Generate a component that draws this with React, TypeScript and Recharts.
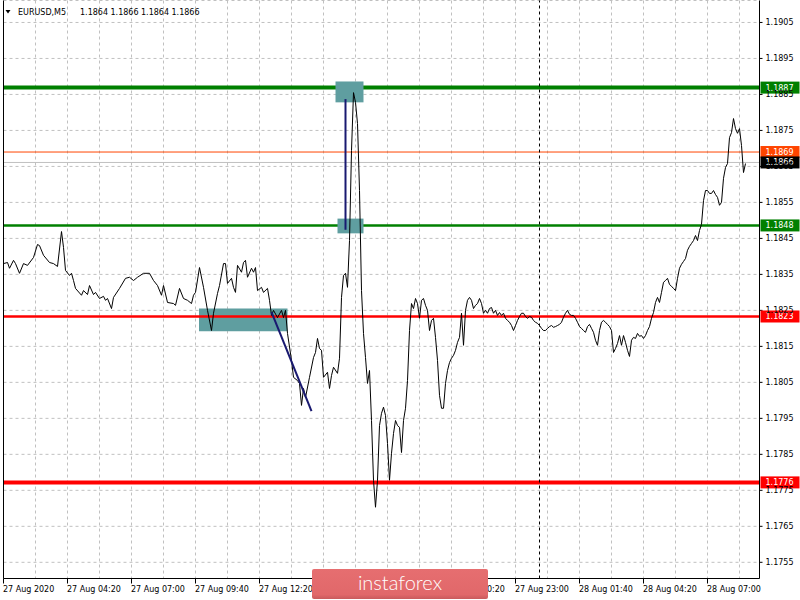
import React from "react";
import {
  ComposedChart,
  Line,
  XAxis,
  YAxis,
  CartesianGrid,
  ReferenceLine,
  ReferenceArea,
} from "recharts";

// ---------- data ----------
const barIndex = [
  0, 2, 3, 5, 6, 8, 10, 12, 15, 17, 18, 20, 23, 25, 27, 29, 30, 31, 33, 34, 35, 36, 39, 40, 42, 43, 45, 46, 48, 50,
  51, 52, 54, 55, 58, 61, 63, 65, 67, 70, 73, 75, 77, 79, 80, 82, 85, 86, 88, 90, 92, 94, 95, 96, 98, 100, 102, 104,
  105, 107, 108, 110, 111, 112, 114, 115, 116, 117, 119, 120, 121, 122, 124, 125, 126, 127, 129, 130, 132, 133, 134,
  135, 137, 139, 140, 141, 142, 144, 145, 147, 148, 149, 150, 151, 153, 155, 156, 157, 158, 159, 160, 162, 163, 164,
  165, 167, 168, 169, 170, 171, 172, 173, 174, 175, 176, 177, 178, 179, 180, 181, 182, 183, 184, 185, 186, 187, 188,
  189, 190, 191, 192, 193, 194, 195, 196, 197, 198, 199, 200, 201, 202, 203, 204, 205, 206, 207, 208, 209, 210, 211,
  212, 213, 214, 215, 216, 217, 218, 219, 220, 221, 222, 223, 224, 225, 226, 227, 228, 229, 230, 231, 232, 233, 234,
  235, 236, 237, 238, 239, 240, 241, 242, 243, 244, 245, 246, 247, 248, 249, 250, 251, 252, 253, 254, 255, 256, 257,
  258, 259, 260, 261, 262, 263, 264, 265, 266, 267, 268, 269, 270, 271, 272, 273, 274, 275, 276, 277, 278, 279, 280,
  281, 282, 283, 284, 285, 286, 287, 288, 289, 290, 291, 292, 293, 294, 295, 296, 297, 298, 299, 300, 301, 302, 303,
  304, 305, 306, 307, 308, 309, 310, 311, 312, 313, 314, 315, 316, 317, 318, 319, 320, 321, 322, 323, 324, 325, 326,
  327, 328, 329, 330, 331, 332, 333, 334, 335, 336, 337, 338, 339, 340, 341, 342, 343, 344, 345, 346, 347, 348, 349,
  350, 351, 352, 353, 354, 355, 356, 357, 358, 359, 360, 361, 362, 363, 364, 365, 366, 367, 368, 369, 370, 371,
];

const closePrice = [
  1.1838, 1.18383, 1.18367, 1.18389, 1.1838, 1.18353, 1.1838, 1.18375, 1.18397, 1.18433, 1.1843, 1.18403, 1.18383,
  1.1838, 1.18372, 1.18469, 1.18425, 1.18361, 1.18347, 1.18353, 1.18333, 1.18311, 1.18292, 1.18305, 1.18294, 1.18319,
  1.18294, 1.183, 1.18283, 1.18289, 1.18278, 1.18283, 1.18255, 1.18286, 1.18311, 1.18339, 1.18342, 1.18333, 1.18342,
  1.18353, 1.18353, 1.18333, 1.18319, 1.18292, 1.18319, 1.18272, 1.18269, 1.18264, 1.18311, 1.18283, 1.18278, 1.18269,
  1.18292, 1.183, 1.18369, 1.18314, 1.1825, 1.18194, 1.18242, 1.18297, 1.18319, 1.1838, 1.1838, 1.18325, 1.18339,
  1.18314, 1.183, 1.18375, 1.18356, 1.18383, 1.18389, 1.18342, 1.18367, 1.18356, 1.18369, 1.18305, 1.18314, 1.183,
  1.18311, 1.18278, 1.18236, 1.1825, 1.1823, 1.1825, 1.1823, 1.1825, 1.18186, 1.18111, 1.18064, 1.18055, 1.18047,
  1.17986, 1.18033, 1.18008, 1.18064, 1.18119, 1.18133, 1.18172, 1.18144, 1.18139, 1.18064, 1.18078, 1.18033, 1.18069,
  1.18092, 1.18075, 1.18117, 1.18286, 1.18347, 1.18353, 1.18314, 1.18444, 1.18694, 1.18855, 1.18828, 1.18769, 1.18583,
  1.18305, 1.18186, 1.18119, 1.18047, 1.18083, 1.17944, 1.17778, 1.17703, 1.17778, 1.1793, 1.17964, 1.17981, 1.17958,
  1.1788, 1.17778, 1.17853, 1.17908, 1.17944, 1.1793, 1.17925, 1.17855, 1.17944, 1.17978, 1.18055, 1.18194, 1.18269,
  1.18255, 1.18283, 1.18269, 1.18228, 1.18278, 1.18283, 1.18264, 1.1825, 1.18194, 1.18222, 1.18228, 1.18175, 1.18111,
  1.18014, 1.17978, 1.17978, 1.18047, 1.18083, 1.18105, 1.18117, 1.18125, 1.18139, 1.18161, 1.18175, 1.18242, 1.18153,
  1.1825, 1.18278, 1.18286, 1.18278, 1.18255, 1.18264, 1.18269, 1.18283, 1.18269, 1.18242, 1.1825, 1.18242, 1.18255,
  1.18258, 1.18242, 1.1825, 1.18236, 1.18244, 1.18236, 1.18242, 1.18228, 1.18222, 1.18217, 1.18208, 1.18194, 1.18208,
  1.18222, 1.18233, 1.18242, 1.18242, 1.18233, 1.18228, 1.18233, 1.18231, 1.18222, 1.18217, 1.18214, 1.18208, 1.182,
  1.18194, 1.18194, 1.182, 1.18205, 1.18208, 1.18203, 1.18205, 1.18208, 1.18211, 1.18217, 1.18231, 1.18242, 1.1825,
  1.18239, 1.18236, 1.18236, 1.18228, 1.18217, 1.18205, 1.182, 1.18194, 1.18189, 1.18205, 1.18211, 1.182, 1.18189,
  1.18167, 1.18153, 1.18194, 1.18217, 1.18222, 1.18217, 1.18211, 1.18205, 1.18194, 1.18133, 1.18144, 1.18158, 1.1818,
  1.18153, 1.1818, 1.18161, 1.18139, 1.18122, 1.18167, 1.18175, 1.18172, 1.18186, 1.18178, 1.1818, 1.18172, 1.1818,
  1.18194, 1.18205, 1.18228, 1.18244, 1.18272, 1.18286, 1.18272, 1.183, 1.18328, 1.18333, 1.18339, 1.18322, 1.18317,
  1.18311, 1.18305, 1.18339, 1.18367, 1.18378, 1.18386, 1.18394, 1.18417, 1.18428, 1.18436, 1.18444, 1.18458, 1.18444,
  1.18472, 1.18489, 1.18555, 1.18583, 1.18583, 1.18575, 1.18575, 1.18583, 1.18572, 1.18564, 1.18542, 1.1855, 1.18617,
  1.18647, 1.18658, 1.1873, 1.18744, 1.18783, 1.18755, 1.18742, 1.18755, 1.18708, 1.18633, 1.18658,
];

const gridBars = [0, 16, 32, 48, 64, 80, 96, 112, 128, 144, 160, 176, 192, 208, 224, 240, 256, 272, 288, 304, 320, 336, 352, 368];
const labelBars = [0, 32, 64, 96, 128, 160, 192, 224, 256, 288, 320, 352];
const labelTexts = [
  "27 Aug 2020",
  "27 Aug 04:20",
  "27 Aug 07:00",
  "27 Aug 09:40",
  "27 Aug 12:20",
  "27 Aug 15:00",
  "27 Aug 17:40",
  "27 Aug 20:20",
  "27 Aug 23:00",
  "28 Aug 01:40",
  "28 Aug 04:20",
  "28 Aug 07:00",
];
const priceTicks = [
  1.1755, 1.1765, 1.1775, 1.1785, 1.1795, 1.1805, 1.1815, 1.1825, 1.1835, 1.1845, 1.1855, 1.1865, 1.1875, 1.1885,
  1.1895, 1.1905,
];

const symbolName = "EURUSD,M5";
const lastOHLC = ["1.1864", "1.1866", "1.1864", "1.1866"];

// horizontal levels and their tags
const resistanceLevels = [1.18869, 1.18486];
const resistanceTags = ["1.1887", "1.1848"];
const supportLevels = [1.18233, 1.17772];
const supportTags = ["1.1823", "1.1776"];
const askPrice = 1.1869;
const askTag = "1.1869";
const bidPrice = 1.18661;
const bidTag = "1.1866";
const daySeparatorBar = 268;

// entry zones
const zoneBars = [
  [97.75, 142],
  [166, 180],
  [167, 180],
];
const zonePrices = [
  [1.18192, 1.18255],
  [1.18828, 1.18886],
  [1.18464, 1.18505],
];

// trend arrows
const trendFrom = [
  { bar: 134, price: 1.18245 },
  { bar: 171, price: 1.18837 },
];
const trendTo = [
  { bar: 154, price: 1.1797 },
  { bar: 171, price: 1.18474 },
];

const chartData = barIndex.map((b, k) => ({ bar: b, close: closePrice[k] }));

const FONT = "'DejaVu Sans', Tahoma, sans-serif";

const XTick = (props: any) => {
  const { x, y, payload } = props;
  const idx = labelBars.indexOf(payload.value);
  if (idx < 0) return <g />;
  return (
    <g>
      <line x1={x} y1={y} x2={x} y2={y + 5} stroke="#000" strokeWidth={1} />
      <text x={x - 0.5} y={y + 13} fontSize={8} fontFamily={FONT} fill="#000" textAnchor="start">
        {labelTexts[idx]}
      </text>
    </g>
  );
};

const LevelTag = (props: any) => {
  const { viewBox, text, bg } = props;
  if (!viewBox) return null;
  const x = viewBox.x + viewBox.width;
  const y = viewBox.y;
  return (
    <g>
      <rect x={x + 1} y={y - 6} width={39} height={12} fill={bg} />
      <text x={x + 6} y={y + 3} fontSize={8} fontFamily={FONT} fill="#fff" textAnchor="start">
        {text}
      </text>
    </g>
  );
};

export default function App() {
  return (
    <div style={{ position: "fixed", left: 0, top: 0, width: 800, height: 600, background: "#fff" }}>
      <ComposedChart
        width={800}
        height={600}
        data={chartData}
        margin={{ top: 0.5, right: 0, bottom: 0, left: 3.5 }}
      >
        <CartesianGrid stroke="#c0c0c0" strokeDasharray="3 3" zIndex={-100} />
        <XAxis
          dataKey="bar"
          type="number"
          domain={[0, 378]}
          ticks={gridBars}
          interval={0}
          allowDataOverflow
          height={21.5}
          tickSize={0}
          tickMargin={0}
          tickLine={false}
          axisLine={{ stroke: "#000" }}
          tick={<XTick />}
        />
        <YAxis
          type="number"
          orientation="right"
          domain={[1.17505, 1.19111]}
          ticks={priceTicks}
          interval={0}
          allowDataOverflow
          width={40.5}
          tickSize={3}
          tickMargin={3}
          tickLine={{ stroke: "#000" }}
          axisLine={{ stroke: "#000" }}
          tickFormatter={(v: number) => v.toFixed(4)}
          tick={{ fontSize: 8, fill: "#000", fontFamily: FONT }}
        />

        {resistanceLevels.map((p, k) => (
          <ReferenceLine key={"r" + k} y={p} stroke="#008000" strokeWidth={k === 0 ? 4 : 2.5} zIndex={200} />
        ))}

        {zoneBars.map((zb, k) => (
          <ReferenceArea
            key={"z" + k}
            x1={zb[0]}
            x2={zb[1]}
            y1={zonePrices[k][0]}
            y2={zonePrices[k][1]}
            fill="#5f9ea0"
            fillOpacity={1}
            stroke="none"
            zIndex={250}
          />
        ))}

        {supportLevels.map((p, k) => (
          <ReferenceLine key={"s" + k} y={p} stroke="#ff0000" strokeWidth={k === 0 ? 2.5 : 4} zIndex={300} />
        ))}
        <ReferenceLine y={askPrice} stroke="#ff4500" strokeWidth={1} zIndex={300} />
        <ReferenceLine y={bidPrice} stroke="#c0c0c0" strokeWidth={1} zIndex={300} />
        <ReferenceLine x={daySeparatorBar} stroke="#000" strokeDasharray="3 3" strokeWidth={1} zIndex={300} />

        <Line
          dataKey="close"
          type="linear"
          stroke="#000"
          strokeWidth={1}
          dot={false}
          activeDot={false}
          isAnimationActive={false}
          zIndex={400}
        />

        {trendFrom.map((f, k) => (
          <ReferenceLine
            key={"t" + k}
            segment={[
              { x: f.bar, y: f.price },
              { x: trendTo[k].bar, y: trendTo[k].price },
            ]}
            stroke="#191970"
            strokeWidth={2}
            zIndex={450}
          />
        ))}
        <ReferenceLine x={0} stroke="#000" strokeWidth={1} zIndex={460} />

        {resistanceLevels.map((p, k) => (
          <ReferenceLine
            key={"rt" + k}
            y={p}
            stroke="none"
            zIndex={600}
            label={<LevelTag text={resistanceTags[k]} bg="#008000" />}
          />
        ))}
        {supportLevels.map((p, k) => (
          <ReferenceLine
            key={"st" + k}
            y={p}
            stroke="none"
            zIndex={600}
            label={<LevelTag text={supportTags[k]} bg="#ff0000" />}
          />
        ))}
        <ReferenceLine y={askPrice} stroke="none" zIndex={600} label={<LevelTag text={askTag} bg="#ff4500" />} />
        <ReferenceLine y={bidPrice} stroke="none" zIndex={600} label={<LevelTag text={bidTag} bg="#000000" />} />
      </ComposedChart>

      <svg
        width={800}
        height={600}
        style={{ position: "absolute", left: 0, top: 0, pointerEvents: "none" }}
      >
        <polygon points="5.5,10 10.5,10 8,13.5" fill="#000" />
        <text y={14.5} fontSize={8} fontFamily={FONT} fill="#000">
          <tspan x={18}>{symbolName}</tspan>
          <tspan x={80}>{lastOHLC[0]}</tspan>
          <tspan x={110.5}>{lastOHLC[1]}</tspan>
          <tspan x={141}>{lastOHLC[2]}</tspan>
          <tspan x={171.5}>{lastOHLC[3]}</tspan>
        </text>
        <defs>
          <linearGradient id="wm" x1="0" y1="0" x2="0" y2="1">
            <stop offset="0" stopColor="#e66e70" />
            <stop offset="0.85" stopColor="#e1686a" />
            <stop offset="1" stopColor="#c95a5c" />
          </linearGradient>
        </defs>
        <rect x={312} y={569} width={176} height={30} rx={2} fill="url(#wm)" />
        <text
          x={400}
          y={590}
          textAnchor="middle"
          fontSize={20}
          fontWeight={300}
          fontFamily="Lato, 'Open Sans', sans-serif"
          fill="#fff"
        >
          instaforex
        </text>
      </svg>
    </div>
  );
}
